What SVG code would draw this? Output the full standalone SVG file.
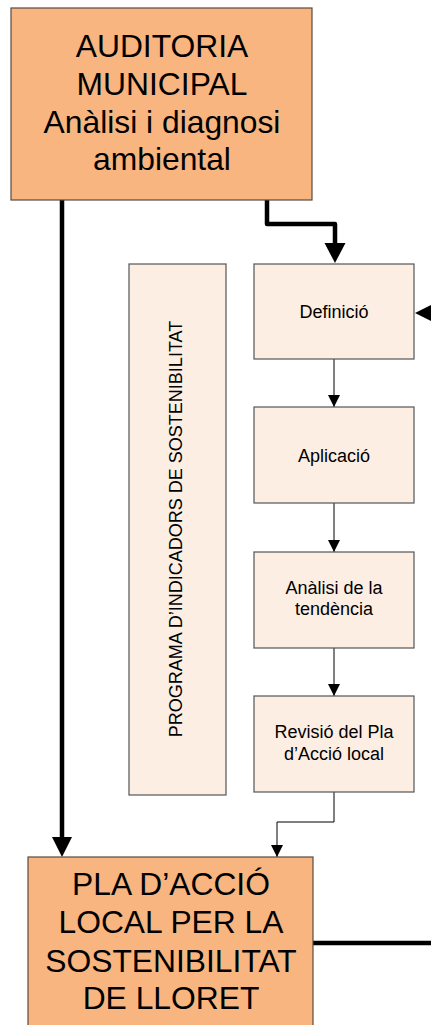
<svg xmlns="http://www.w3.org/2000/svg" width="431" height="1025" viewBox="0 0 431 1025">
<defs>
<style>
.big{fill:#F8B57F;stroke:#5a4a40;stroke-width:1.2}
.small{fill:#FDEEE3;stroke:#555;stroke-width:1.2}
.tb{font-family:"Liberation Sans",Arial,sans-serif;font-size:31.8px;fill:#000;text-anchor:middle}
.ts{font-family:"Liberation Sans",Arial,sans-serif;font-size:18px;fill:#000;text-anchor:middle}
.thick{fill:none;stroke:#000;stroke-width:4.5;stroke-linejoin:round}
.thin{fill:none;stroke:#000;stroke-width:1}
</style>
<marker id="ah" viewBox="0 0 10 10" refX="10" refY="5" markerWidth="12" markerHeight="12" markerUnits="userSpaceOnUse" orient="auto">
<path d="M0,0 L10,5 L0,10 Z" fill="#000"/>
</marker>
</defs>
<g id="connectors">
<path class="thick" d="M62,200 V838"/>
<polygon points="52,837 72,837 62,857"/>
<path class="thick" d="M267,200 V224 H335 V244"/>
<polygon points="324.5,243 345.5,243 335,263"/>
<polygon points="415,313 435,303 435,323"/>
<path class="thick" d="M313,943 H431"/>
<path class="thin" d="M334,359 V407" marker-end="url(#ah)"/>
<path class="thin" d="M334,503 V552" marker-end="url(#ah)"/>
<path class="thin" d="M334,648 V696" marker-end="url(#ah)"/>
<path class="thin" d="M334,792 V822 H277 V857" marker-end="url(#ah)"/>
</g>
<g id="auditoria">
<rect class="big" x="11" y="8" width="301" height="192"/>
<text class="tb" x="162" y="57">AUDITORIA</text>
<text class="tb" x="162" y="95">MUNICIPAL</text>
<text class="tb" x="162" y="133">Anàlisi i diagnosi</text>
<text class="tb" x="162" y="170">ambiental</text>
</g>
<g id="programa">
<rect class="small" x="129" y="264" width="97" height="531"/>
<text class="ts" transform="translate(182,529) rotate(-90)">PROGRAMA D’INDICADORS DE SOSTENIBILITAT</text>
</g>
<g id="definicio">
<rect class="small" x="254" y="264" width="160" height="95"/>
<text class="ts" x="334" y="318">Definició</text>
</g>
<g id="aplicacio">
<rect class="small" x="254" y="407" width="160" height="96"/>
<text class="ts" x="334" y="462">Aplicació</text>
</g>
<g id="analisi">
<rect class="small" x="254" y="552" width="160" height="96"/>
<text class="ts" x="334" y="594">Anàlisi de la</text>
<text class="ts" x="334" y="615">tendència</text>
</g>
<g id="revisio">
<rect class="small" x="254" y="696" width="160" height="96"/>
<text class="ts" x="334" y="738">Revisió del Pla</text>
<text class="ts" x="334" y="760">d’Acció local</text>
</g>
<g id="pla">
<rect class="big" x="28" y="857" width="285" height="180"/>
<text class="tb" x="171" y="895">PLA D’ACCIÓ</text>
<text class="tb" x="171" y="933">LOCAL PER LA</text>
<text class="tb" x="171" y="972">SOSTENIBILITAT</text>
<text class="tb" x="171" y="1009">DE LLORET</text>
</g>
</svg>
